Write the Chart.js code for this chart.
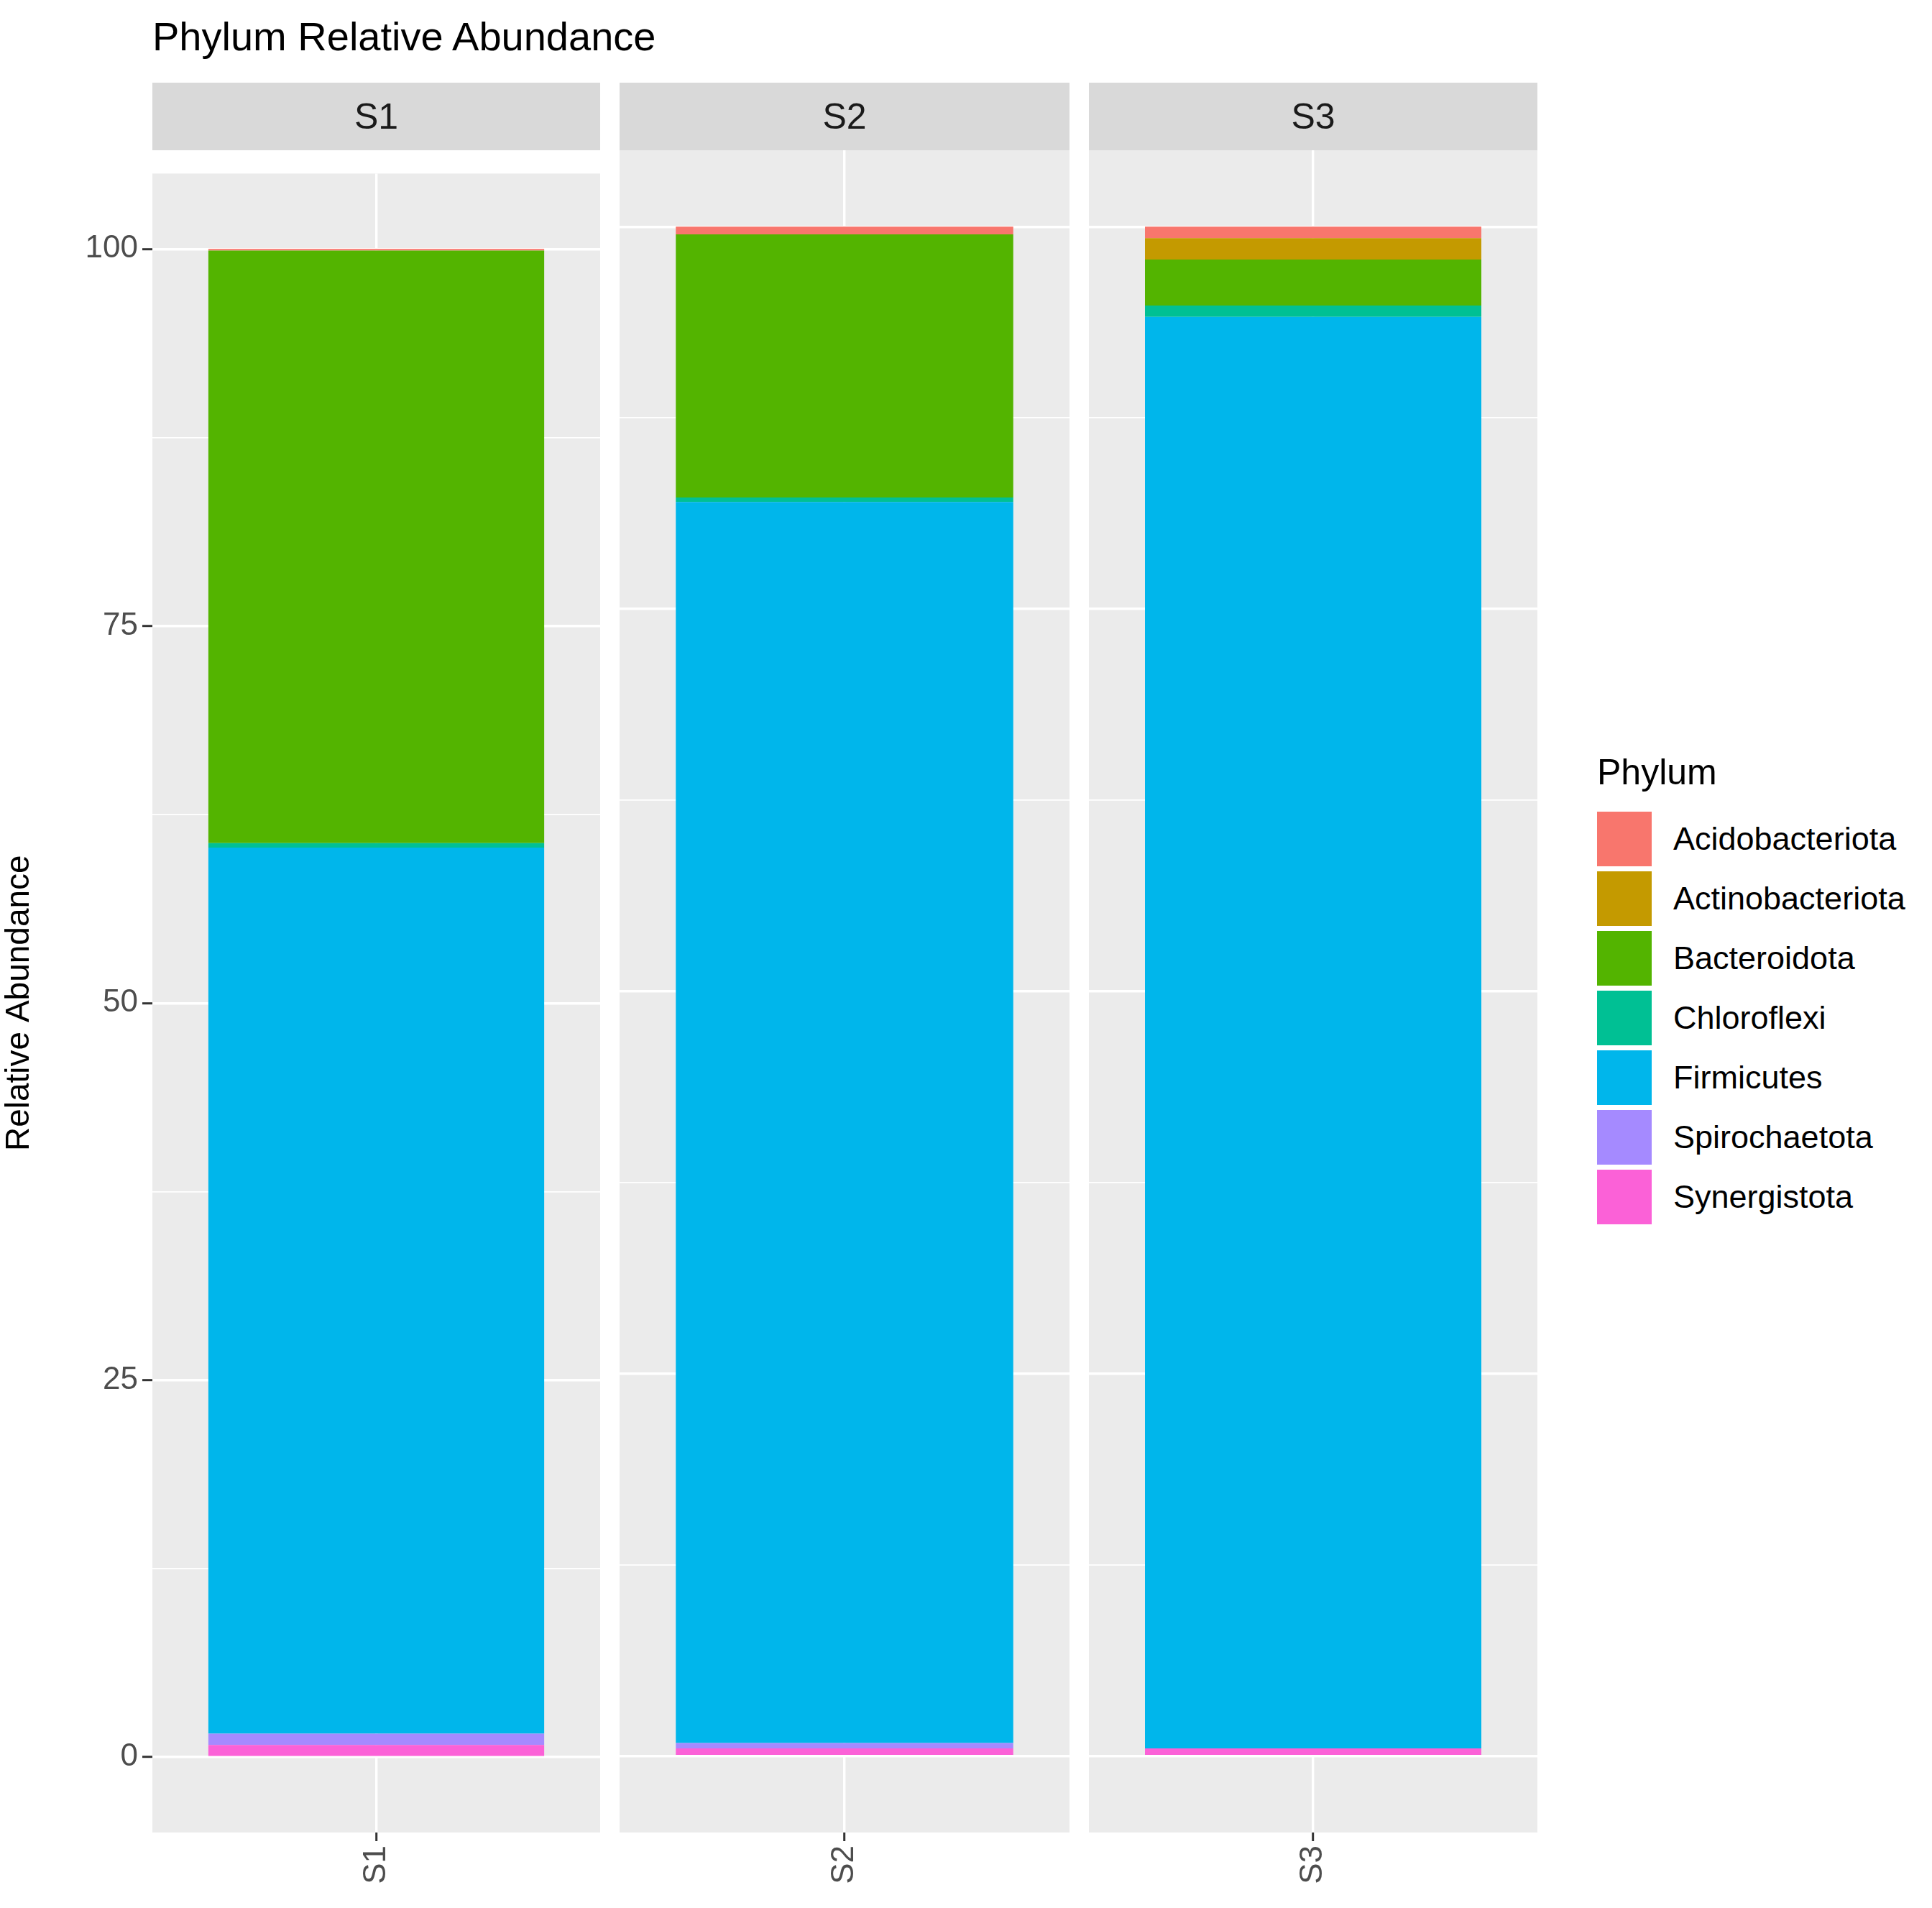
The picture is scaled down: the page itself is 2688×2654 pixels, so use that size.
<!DOCTYPE html>
<html>
<head>
<meta charset="utf-8">
<script src="https://cdn.jsdelivr.net/npm/chart.js@4"></script>
<style>
  body { margin: 0; background: #fff; width: 2688px; height: 2654px; position: relative; overflow: hidden; font-family: Arial, "Liberation Sans", sans-serif; }
  .title { position: absolute; left: 212px; top: 18px; font-size: 56px; color: #000; }
  .strip { position: absolute; top: 115px; height: 94px; background: #D9D9D9; color: #1A1A1A; font-size: 50px; text-align: center; line-height: 94px; }
  .box { position: absolute; top: 209px; height: 2445px; }
  .legend { position: absolute; left: 2222px; top: 1045px; font-size: 45px; color: #000; }
  .legend .ttl { font-size: 50px; margin-bottom: 22px; }
  .legend .row { display: flex; align-items: center; height: 83px; }
  .legend .key { width: 76px; height: 76px; margin-right: 30px; }
</style>
</head>
<body>
<div class="title">Phylum Relative Abundance</div>
<div class="strip" style="left:212px;width:623px">S1</div>
<div class="strip" style="left:862px;width:626px">S2</div>
<div class="strip" style="left:1515px;width:624px">S3</div>
<div class="box" style="left:0;width:835px"><canvas id="c0"></canvas></div>
<div class="box" style="left:862px;width:626px"><canvas id="c1"></canvas></div>
<div class="box" style="left:1515px;width:624px"><canvas id="c2"></canvas></div>
<div class="legend" id="legend"><div class="ttl">Phylum</div></div>
<script>
const samples = ['S1', 'S2', 'S3'];
const phyla = ['Acidobacteriota', 'Actinobacteriota', 'Bacteroidota', 'Chloroflexi', 'Firmicutes', 'Spirochaetota', 'Synergistota'];
const colores = ['#F8766D', '#C49A00', '#53B400', '#00C094', '#00B6EB', '#A58AFF', '#FB61D7'];

// valores por phylum, en orden S1, S2, S3
const acidobacteriota = [0.1, 0.5, 0.75];
const actinobacteriota = [0, 0, 1.4];
const bacteroidota = [39.3, 17.2, 3.0];
const chloroflexi = [0.3, 0.3, 0.75];
const firmicutes = [58.75, 81.15, 93.6];
const spirochaetota = [0.75, 0.35, 0];
const synergistota = [0.8, 0.5, 0.5];
const valores = [acidobacteriota, actinobacteriota, bacteroidota, chloroflexi, firmicutes, spirochaetota, synergistota];

const fondoPanel = {
    id: 'fondoPanel',
    beforeDraw(chart) {
        const a = chart.chartArea;
        chart.ctx.save();
        chart.ctx.fillStyle = '#EBEBEB';
        chart.ctx.fillRect(a.left, a.top, a.right - a.left, a.bottom - a.top);
        chart.ctx.restore();
    }
};

function crearPanel(i) {
    const primero = i === 0;
    const datasets = [];
    for (let k = phyla.length - 1; k >= 0; k--) {
        datasets.push({
            label: phyla[k],
            data: [valores[k][i]],
            backgroundColor: colores[k],
            borderWidth: 0,
            barPercentage: 0.75,
            categoryPercentage: 1
        });
    }
    new Chart(document.getElementById('c' + i), {
        type: 'bar',
        data: { labels: [samples[i]], datasets: datasets },
        plugins: [fondoPanel],
        options: {
            responsive: true,
            maintainAspectRatio: false,
            devicePixelRatio: 1,
            animation: false,
            layout: { padding: 0 },
            plugins: { legend: { display: false }, tooltip: { enabled: false } },
            scales: {
                x: {
                    stacked: true,
                    offset: true,
                    afterFit: (s) => { s.height = 105; },
                    border: { display: false },
                    grid: { offset: false, color: '#FFFFFF', lineWidth: 3.4, drawTicks: true, tickLength: 12, tickColor: '#333333', tickWidth: 3 },
                    ticks: { minRotation: 90, maxRotation: 90, color: '#4D4D4D', font: { size: 44, family: 'Arial' }, padding: 6 }
                },
                y: {
                    stacked: true,
                    min: -5,
                    max: 105,
                    afterFit: (s) => { s.width = primero ? 212 : 0; },
                    border: { display: false },
                    title: { display: primero, text: 'Relative Abundance', color: '#000', font: { size: 46, family: 'Arial' }, padding: { top: 0, bottom: 20 } },
                    grid: {
                        color: (c) => (c.tick.value < 0 || c.tick.value > 100) ? 'rgba(0,0,0,0)' : '#FFFFFF',
                        lineWidth: (c) => c.tick.value % 25 === 0 ? 3.4 : 1.7,
                        drawTicks: primero,
                        tickLength: 14,
                        tickWidth: 3,
                        tickColor: (c) => c.tick.value % 25 === 0 ? '#333333' : 'rgba(0,0,0,0)'
                    },
                    ticks: {
                        display: primero,
                        stepSize: 12.5,
                        color: '#4D4D4D',
                        font: { size: 44, family: 'Arial' },
                        padding: 6,
                        callback: (v) => (v >= 0 && v % 25 === 0) ? v : ''
                    }
                }
            }
        }
    });
}

samples.forEach((s, i) => crearPanel(i));

const leyenda = document.getElementById('legend');
phyla.forEach((p, k) => {
    const row = document.createElement('div');
    row.className = 'row';
    row.innerHTML = "<div class='key' style='background:" + colores[k] + "'></div><span>" + p + "</span>";
    leyenda.appendChild(row);
});
</script>
</body>
</html>
